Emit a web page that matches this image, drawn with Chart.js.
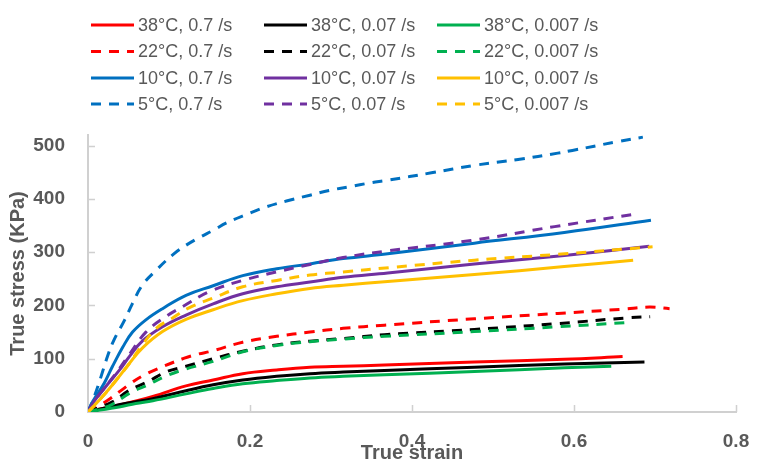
<!DOCTYPE html>
<html>
<head>
<meta charset="utf-8">
<script src="https://cdn.jsdelivr.net/npm/chart.js@4.4.1/dist/chart.umd.min.js"></script>
<style>
  html, body { margin: 0; padding: 0; background: #fff; }
  #wrap { width: 758px; height: 466px; }
</style>
</head>
<body>
<div id="wrap"><canvas id="chart" width="758" height="466"></canvas></div>
<script>
// series names, in legend order (row by row)
const seriesLabels = [
  '38°C, 0.7 /s', '38°C, 0.07 /s', '38°C, 0.007 /s',
  '22°C, 0.7 /s', '22°C, 0.07 /s', '22°C, 0.007 /s',
  '10°C, 0.7 /s', '10°C, 0.07 /s', '10°C, 0.007 /s',
  '5°C, 0.7 /s',  '5°C, 0.07 /s',  '5°C, 0.007 /s',
];

// true strain / true stress (KPa)
const strain38_07   = [0, 0.013, 0.039, 0.08, 0.121, 0.1545, 0.191, 0.233, 0.274, 0.315, 0.366, 0.477, 0.588, 0.66];
const stress38_07   = [0, 5, 13, 29, 49, 60, 72, 79, 84, 86, 88, 94, 99, 104];
const strain38_007  = [0, 0.046, 0.08, 0.121, 0.1545, 0.191, 0.233, 0.274, 0.315, 0.366, 0.477, 0.588, 0.687];
const stress38_007  = [0, 16, 25, 40, 51, 60, 67, 72, 75, 78, 84, 90, 94];
const strain38_0007 = [0, 0.04, 0.059, 0.08, 0.121, 0.1545, 0.191, 0.233, 0.274, 0.315, 0.366, 0.477, 0.588, 0.646];
const stress38_0007 = [0, 10, 16, 21, 34, 44, 53, 59, 64, 67, 70, 76, 83, 86];

const strain22_07   = [0, 0.012, 0.028, 0.053, 0.069, 0.092, 0.119, 0.134, 0.1545, 0.191, 0.233, 0.274, 0.315, 0.366, 0.477, 0.58, 0.66, 0.693, 0.718];
const stress22_07   = [0, 10, 26, 54, 69, 85, 101, 108, 115, 131, 142, 150, 157, 163, 175, 185, 193, 197, 194];
const strain22_007  = [0, 0.03, 0.051, 0.074, 0.096, 0.119, 0.1545, 0.191, 0.233, 0.274, 0.315, 0.366, 0.477, 0.58, 0.668, 0.694];
const stress22_007  = [0, 19, 41, 57, 75, 85, 100, 114, 126, 133, 138, 145, 155, 166, 177, 179];
const strain22_0007 = [0, 0.028, 0.051, 0.074, 0.094, 0.117, 0.1545, 0.191, 0.233, 0.274, 0.315, 0.366, 0.477, 0.58, 0.666];
const stress22_0007 = [0, 13, 35, 51, 66, 79, 95, 113, 125, 132, 137, 142, 151, 160, 168];

const strain10_07   = [0, 0.006, 0.02, 0.03, 0.043, 0.055, 0.0715, 0.092, 0.121, 0.1545, 0.191, 0.233, 0.274, 0.315, 0.37, 0.477, 0.588, 0.695];
const stress10_07   = [0, 20, 54, 85, 122, 150, 173, 194, 219, 237, 256, 269, 278, 288, 297, 317, 337, 360];
const strain10_007  = [0, 0.007, 0.022, 0.039, 0.051, 0.067, 0.092, 0.121, 0.1545, 0.191, 0.233, 0.274, 0.315, 0.37, 0.477, 0.588, 0.693];
const stress10_007  = [0, 19, 48, 79, 104, 133, 160, 182, 203, 222, 235, 244, 253, 261, 278, 294, 311];
const strain10_0007 = [0, 0.018, 0.035, 0.051, 0.067, 0.092, 0.121, 0.1545, 0.191, 0.233, 0.274, 0.315, 0.37, 0.477, 0.588, 0.673];
const stress10_0007 = [0, 29, 60, 91, 120, 151, 174, 192, 209, 222, 232, 238, 245, 258, 273, 285];

const strain5_07    = [0, 0.008, 0.016, 0.024, 0.032, 0.045, 0.055, 0.067, 0.084, 0.106, 0.121, 0.138, 0.1545, 0.171, 0.196, 0.22, 0.245, 0.274, 0.298, 0.323, 0.348, 0.37, 0.424, 0.477, 0.531, 0.58, 0.598, 0.652, 0.685];
const stress5_07    = [0, 30, 66, 104, 135, 172, 204, 238, 266, 297, 313, 328, 341, 355, 371, 385, 396, 407, 416, 423, 430, 435, 449, 463, 474, 486, 491, 507, 516];
const strain5_007   = [0, 0.007, 0.022, 0.039, 0.051, 0.0715, 0.095, 0.117, 0.15, 0.191, 0.233, 0.274, 0.315, 0.368, 0.473, 0.576, 0.677];
const stress5_007   = [0, 19, 48, 82, 108, 150, 178, 198, 226, 247, 263, 277, 290, 302, 322, 348, 372];
const strain5_0007  = [0, 0.018, 0.035, 0.051, 0.067, 0.085, 0.104, 0.124, 0.1545, 0.191, 0.233, 0.274, 0.315, 0.372, 0.477, 0.58, 0.697];
const stress5_0007  = [0, 29, 60, 91, 126, 158, 176, 195, 214, 235, 247, 257, 263, 271, 285, 296, 310];

const xTicks = [0, 0.2, 0.4, 0.6, 0.8];
const yTicks = [0, 100, 200, 300, 400, 500];

const seriesData = [
  [strain38_07, stress38_07], [strain38_007, stress38_007], [strain38_0007, stress38_0007],
  [strain22_07, stress22_07], [strain22_007, stress22_007], [strain22_0007, stress22_0007],
  [strain10_07, stress10_07], [strain10_007, stress10_007], [strain10_0007, stress10_0007],
  [strain5_07, stress5_07],   [strain5_007, stress5_007],   [strain5_0007, stress5_0007],
];

const RED = '#FF0000', BLACK = '#000000', GREEN = '#00B050';
const BLUE = '#0070C0', PURPLE = '#7030A0', GOLD = '#FFC000';
const colors = [RED, BLACK, GREEN, RED, BLACK, GREEN, BLUE, PURPLE, GOLD, BLUE, PURPLE, GOLD];
const dashed = [false, false, false, true, true, true, false, false, false, true, true, true];
const DASH = [10, 8];
const GREY = '#595959';
const AXIS = '#D0D0D0';

const datasets = seriesLabels.map((label, i) => ({
  label,
  data: seriesData[i][0].map((x, j) => ({ x, y: seriesData[i][1][j] })),
  borderColor: colors[i],
  backgroundColor: colors[i],
  borderWidth: 3,
  borderDash: dashed[i] ? DASH : [],
  pointRadius: 0,
  tension: 0.4,
  fill: false,
  order: seriesLabels.length - i, // later series on top, like the original
}));

// legend laid out as a 3 x 4 grid above the plot
const gridLegend = {
  id: 'gridLegend',
  afterDraw(chart) {
    const ctx = chart.ctx;
    const colX = [91, 264, 437];
    const rowY = [25, 51.5, 78, 104];
    ctx.save();
    ctx.font = '18px "Liberation Sans", Arial, sans-serif';
    ctx.textBaseline = 'middle';
    ctx.textAlign = 'left';
    chart.data.datasets.forEach((ds, i) => {
      const x = colX[i % 3], y = rowY[Math.floor(i / 3)];
      ctx.strokeStyle = ds.borderColor;
      ctx.lineWidth = 3;
      ctx.setLineDash(ds.borderDash);
      ctx.beginPath();
      ctx.moveTo(x, y);
      ctx.lineTo(x + 43, y);
      ctx.stroke();
      ctx.setLineDash([]);
      ctx.fillStyle = GREY;
      ctx.fillText(ds.label, x + 47, y + 1);
    });
    ctx.restore();
  }
};

// short tick marks pointing into the plot
const innerTicks = {
  id: 'innerTicks',
  afterDraw(chart) {
    const { ctx, chartArea: a, scales: { x, y } } = chart;
    ctx.save();
    ctx.strokeStyle = AXIS;
    ctx.lineWidth = 1.5;
    ctx.beginPath();
    y.ticks.forEach(t => {
      if (t.value === 0) return;
      const py = Math.round(y.getPixelForValue(t.value)) + 0.5;
      ctx.moveTo(a.left, py); ctx.lineTo(a.left + 7, py);
    });
    x.ticks.forEach(t => {
      if (t.value === 0) return;
      const px = Math.round(x.getPixelForValue(t.value)) + 0.5;
      ctx.moveTo(px, a.bottom); ctx.lineTo(px, a.bottom - 7);
    });
    ctx.stroke();
    ctx.restore();
  }
};

const tickFont = { family: '"Liberation Sans", Arial, sans-serif', size: 19, weight: 'bold' };
const titleFont = { family: '"Liberation Sans", Arial, sans-serif', size: 20, weight: 'bold' };

new Chart(document.getElementById('chart'), {
  type: 'line',
  data: { datasets },
  options: {
    responsive: false,
    animation: false,
    layout: { padding: { top: 135, right: 22, left: 0, bottom: 0 } },
    plugins: { legend: { display: false }, tooltip: { enabled: false } },
    scales: {
      x: {
        type: 'linear',
        min: 0, max: 0.8,
        afterBuildTicks: s => { s.ticks = xTicks.map(value => ({ value })); },
        afterFit: s => { s.height = 54; s.paddingLeft = 0; s.paddingRight = 0; },
        grid: { display: false, drawTicks: false },
        border: { display: true, color: AXIS, width: 2 },
        ticks: {
          color: GREY, font: tickFont, padding: 18, maxRotation: 0,
          callback: v => String(+v.toFixed(1)),
        },
        title: { display: true, text: 'True strain', color: GREY, font: titleFont, padding: { top: 0, bottom: 1 } },
      },
      y: {
        type: 'linear',
        min: 0, max: 520,
        afterBuildTicks: s => { s.ticks = yTicks.map(value => ({ value })); },
        afterFit: s => { s.width = 88; s.paddingTop = 0; s.paddingBottom = 0; },
        grid: { display: false, drawTicks: false },
        border: { display: true, color: AXIS, width: 2 },
        ticks: { color: GREY, font: tickFont, padding: 23 },
        title: { display: true, text: 'True stress (KPa)', color: GREY, font: titleFont, padding: { top: 6, bottom: 0 } },
      },
    },
  },
  plugins: [gridLegend, innerTicks],
});
</script>
</body>
</html>
